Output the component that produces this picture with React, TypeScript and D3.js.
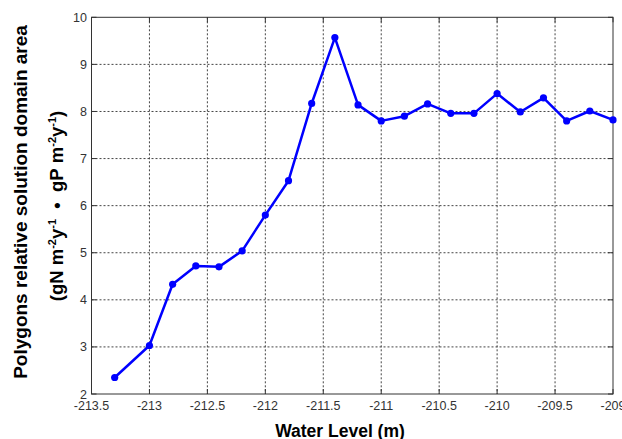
import React from "react";
import * as d3 from "d3";

const waterLevel = [-213.3, -213, -212.8, -212.6, -212.4, -212.2, -212, -211.8, -211.6, -211.4, -211.2, -211, -210.8, -210.6, -210.4, -210.2, -210, -209.8, -209.6, -209.4, -209.2, -209];
const areaValues = [2.35, 3.03, 4.33, 4.72, 4.7, 5.04, 5.8, 6.53, 8.17, 9.57, 8.14, 7.8, 7.9, 8.16, 7.96, 7.96, 8.38, 7.99, 8.29, 7.8, 8.01, 7.82];
const xTicks = [-213.5, -213, -212.5, -212, -211.5, -211, -210.5, -210, -209.5, -209];
const yTicks = [2, 3, 4, 5, 6, 7, 8, 9, 10];

const W = 622, H = 439;
const m = { left: 91.5, right: 613, top: 17.3, bottom: 394 };

export default function App() {
  const x = d3.scaleLinear().domain([-213.5, -209]).range([m.left, m.right]);
  const y = d3.scaleLinear().domain([2, 10]).range([m.bottom, m.top]);
  const pts: [number, number][] = waterLevel.map((w, i) => [x(w), y(areaValues[i])]);
  const line = d3.line()(pts) || "";
  const font = "Arial, 'Liberation Sans', sans-serif";
  return (
    <svg width={W} height={H} style={{ position: "absolute", left: 0, top: 0, background: "#fff" }}>
      <rect x={0} y={0} width={W} height={H} fill="#fff" />
      {xTicks.slice(1, -1).map((t) => (
        <line key={"gx" + t} x1={x(t)} x2={x(t)} y1={m.top} y2={m.bottom} stroke="#444" strokeWidth={1} strokeDasharray="2,2" />
      ))}
      {yTicks.slice(1, -1).map((t) => (
        <line key={"gy" + t} x1={m.left} x2={m.right} y1={y(t)} y2={y(t)} stroke="#444" strokeWidth={1} strokeDasharray="2,2" />
      ))}
      {xTicks.map((t) => (
        <g key={"tx" + t}>
          <line x1={x(t)} x2={x(t)} y1={m.bottom} y2={m.bottom - 5} stroke="#333" />
          <line x1={x(t)} x2={x(t)} y1={m.top} y2={m.top + 5} stroke="#333" />
          <text x={x(t)} y={409.5} textAnchor="middle" fontFamily={font} fontSize={12.5} fill="#333">{t}</text>
        </g>
      ))}
      {yTicks.map((t) => (
        <g key={"ty" + t}>
          <line x1={m.left} x2={m.left + 5} y1={y(t)} y2={y(t)} stroke="#333" />
          <line x1={m.right} x2={m.right - 5} y1={y(t)} y2={y(t)} stroke="#333" />
          <text x={87} y={y(t) + 4.5} textAnchor="end" fontFamily={font} fontSize={12.5} fill="#333">{t}</text>
        </g>
      ))}
      <rect x={m.left} y={m.top} width={m.right - m.left} height={m.bottom - m.top} fill="none" stroke="#333" strokeWidth={1} />
      <path d={line} fill="none" stroke="#0000ff" strokeWidth={2.5} strokeLinejoin="round" />
      {pts.map((p, i) => (
        <circle key={i} cx={p[0]} cy={p[1]} r={3.6} fill="#0000ff" />
      ))}
      <text x={340} y={437} textAnchor="middle" fontFamily={font} fontSize={17.5} fontWeight="bold" fill="#000">Water Level (m)</text>
      <g transform="translate(27,202) rotate(-90)">
        <text x={0} y={0} textAnchor="middle" fontFamily={font} fontSize={19} fontWeight="bold" fill="#000">Polygons relative solution domain area</text>
      </g>
      <g transform="translate(63,206) rotate(-90)">
        <text x={0} y={0} textAnchor="middle" fontFamily={font} fontSize={18.5} fontWeight="bold" fill="#000">
          <tspan>{"(gN\u00a0m"}</tspan>
          <tspan fontSize={11} dy={-7}>-2</tspan>
          <tspan dy={7}>y</tspan>
          <tspan fontSize={11} dy={-7}>-1</tspan>
          <tspan dy={7}>{"\u00a0\u00a0•\u00a0\u00a0gP\u00a0m"}</tspan>
          <tspan fontSize={11} dy={-7}>-2</tspan>
          <tspan dy={7}>y</tspan>
          <tspan fontSize={11} dy={-7}>-1</tspan>
          <tspan dy={7}>)</tspan>
        </text>
      </g>
    </svg>
  );
}
